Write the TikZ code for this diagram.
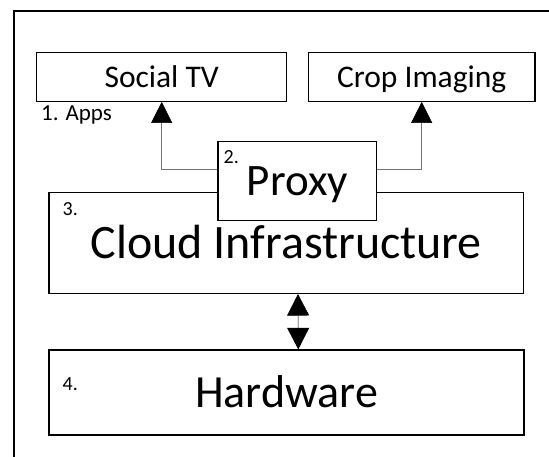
\documentclass[tikz,border=0pt]{standalone}
\usepackage{fontspec}
\setmainfont{Carlito}
\usetikzlibrary{arrows.meta}
\tikzset{
  layer/.style={draw, rectangle, line width=1.3pt, inner sep=0pt, fill=white,
    font=\fontsize{#1}{#1}\selectfont, text height=0.64*#1, text depth=0pt},
  tag/.style={inner sep=0pt, anchor=base west, font=\fontsize{20pt}{20pt}\selectfont},
  link/.style={draw=black!55, line width=0.6pt, -{Triangle[length=21pt,width=21pt,color=black]}},
}
\begin{document}
\begin{tikzpicture}[x=1pt,y=-1pt]
    \useasboundingbox (0,0) rectangle (549,457);
    \clip (0,0) rectangle (549,457);
    % outer frame, runs off the page
    \draw[line width=1.3pt] (14,11) rectangle (570,480);
    % apps
    \node[layer=31.5pt, minimum width=250pt, minimum height=48.5pt] (social) at (161.7,77) {Social TV};
    \node[layer=31.5pt, minimum width=226.7pt, minimum height=48.5pt] (crop) at (421.7,77) {Crop Imaging};
    \node[tag, font=\fontsize{23pt}{23pt}\selectfont] (apps) at (41,121) {1. Apps};
    % layers
    \node[layer=48pt, minimum width=474.5pt, minimum height=100.8pt] (cloud) at (286.2,243) {Cloud Infrastructure};
    \node[layer=45pt, minimum width=158.7pt, minimum height=79pt] (proxy) at (297.4,181.2) {Proxy};
    \node[layer=46pt, minimum width=475pt, minimum height=85pt] (hardware) at (286.5,392.5) {Hardware};
    \node[tag] (n2) at (223.5,164) {2.};
    \node[tag] (n3) at (62.5,216) {3.};
    \node[tag] (n4) at (62.5,390) {4.};
    % links
    \draw[link] ([yshift=12pt]proxy.west) -| (social.south);
    \draw[link] ([yshift=12pt]proxy.east) -| (crop.south);
    \draw[line width=0.6pt, {Triangle[length=21.5pt,width=22pt]}-{Triangle[length=21.5pt,width=22pt]}] ([xshift=11.8pt]cloud.south) -- ([xshift=11.8pt]hardware.north);
\end{tikzpicture}
\end{document}
